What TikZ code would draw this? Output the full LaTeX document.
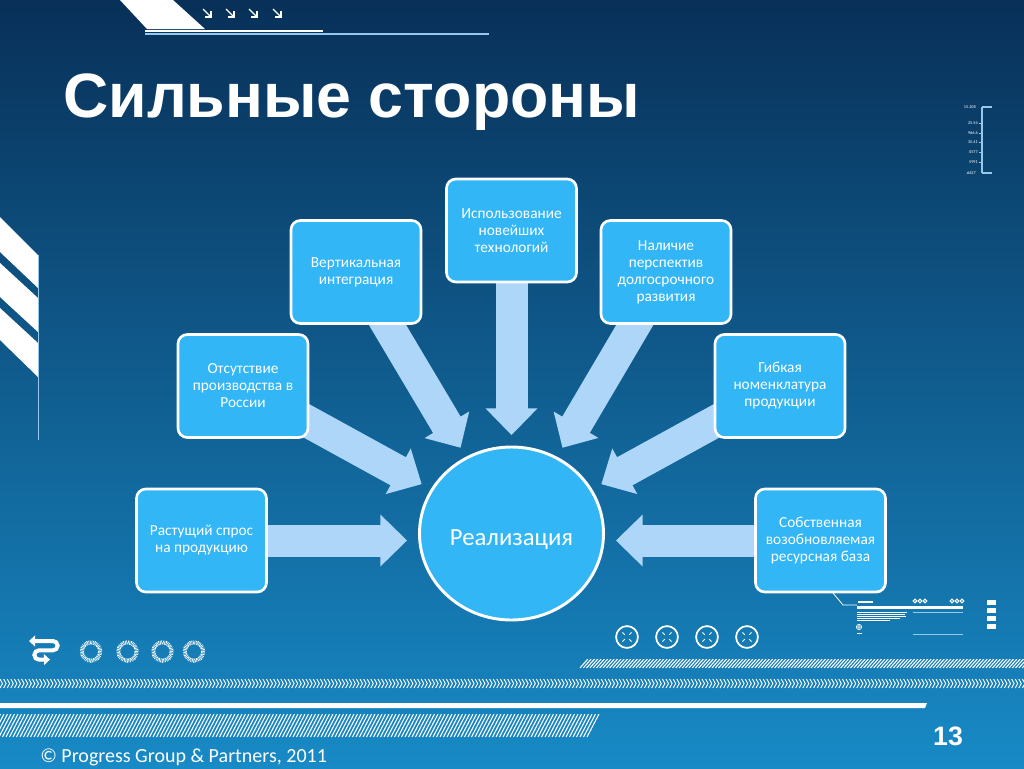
\documentclass[tikz,border=0pt]{standalone}
\usepackage{fontspec}
\setmainfont{Carlito}
\newfontfamily\titlef{Liberation Sans}
\usetikzlibrary{shapes.geometric,calc,arrows.meta}
\definecolor{boxc}{RGB}{51,182,245}
\definecolor{arrc}{RGB}{174,214,249}
\definecolor{bgtop}{RGB}{8,48,88}
\definecolor{bgmid}{RGB}{10,88,136}
\definecolor{bgbot}{RGB}{24,138,198}
\definecolor{deco}{RGB}{150,200,235}
\pgfdeclarelayer{bg}\pgfdeclarelayer{arr}\pgfsetlayers{bg,arr,main}
\newcommand\blockarrow[2]{%
  \coordinate (#2h) at ($(#2)!20pt!(#1)$);
  \coordinate (#2s) at ($(#2)!19pt!(#1)$);
  \draw[arrc,line width=24pt] (#1.center) -- (#2s);
  \fill[arrc] (#2) -- ($(#2h)!19.5pt!90:(#2)$) -- ($(#2h)!19.5pt!-90:(#2)$) -- cycle;}
\tikzset{
  box/.style={draw=white,line width=2pt,fill=boxc,rounded corners=7pt,
    minimum width=97.5pt,minimum height=77.25pt,align=center,text=white,
    font=\fontsize{11.5}{12.75}\selectfont,inner sep=2pt},
  hub/.style={ellipse,draw=white,line width=2.2pt,fill=boxc,minimum width=138pt,
    minimum height=129.75pt},
  tiny/.style={text=white,font=\fontsize{3.2}{4}\selectfont,inner sep=0pt,anchor=east}
}
\begin{document}
\begin{tikzpicture}[x=0.75pt,y=-0.75pt]
\useasboundingbox (0,0) rectangle (1024,768);
% nodes
\node[box] (b1) at (201.5,540.5) {Растущий спрос\\на продукцию};
\node[box] (b2) at (243,386) {Отсутствие\\производства в\\России};
\node[box] (b3) at (356,272) {Вертикальная\\интеграция};
\node[box] (b4) at (511.5,230.5) {Использование\\новейших\\технологий};
\node[box] (b5) at (666,272) {Наличие\\перспектив\\долгосрочного\\развития};
\node[box] (b6) at (780,386) {Гибкая\\номенклатура\\продукции};
\node[box] (b7) at (820.5,540.5) {Собственная\\возобновляемая\\ресурсная база};
\node[hub] (c) at (511.5,533.5) {};
\node[text=white,inner sep=0pt,font=\fontsize{18.5}{20}\selectfont] (clabel) at (511.5,540) {Реализация};
\node[text=white,anchor=base west,inner sep=0pt,font=\titlef\bfseries\fontsize{47}{50}\selectfont] (title) at (63,117) {Сильные стороны};
\node[text=white,anchor=base west,inner sep=0pt,font=\fontsize{15}{17}\selectfont] (foot) at (40,762) {© Progress Group \& Partners, 2011};
\node[text=white,inner sep=0pt,font=\titlef\bfseries\fontsize{20}{22}\selectfont] (num) at (948,736) {13};
% tip coordinates
\coordinate (t1) at (407,540.5);
\coordinate (t2) at (421.6,484.1);
\coordinate (t3) at (460.5,447.7);
\coordinate (t4) at (511.5,435);
\coordinate (t5) at (562.5,447.7);
\coordinate (t6) at (601.4,484.1);
\coordinate (t7) at (616,540.5);
\begin{pgfonlayer}{arr}
\blockarrow{b1}{t1}
\blockarrow{b2}{t2}
\blockarrow{b3}{t3}
\blockarrow{b4}{t4}
\blockarrow{b5}{t5}
\blockarrow{b6}{t6}
\blockarrow{b7}{t7}
\end{pgfonlayer}
\begin{pgfonlayer}{bg}
\shade[top color=bgtop,middle color=bgmid,bottom color=bgbot] (0,0) rectangle (1024,768);
% top decoration
\fill[white] (120,0) -- (173,0) -- (205,29) -- (147,29) -- cycle;
\draw[white,line width=1.5pt] (145,31) -- (323,31);
\draw[deco,line width=0.8pt] (145,34) -- (489,34);
\foreach \x in {207,230,253,277}{
  \draw[white,line width=1pt] (\x-4,9) -- (\x+4,17);
  \draw[white,line width=1pt] (\x+4,11) -- (\x+4,17) -- (\x-2,17);}
% left stripes
\fill[white] (0,217) -- (38,255) -- (38,288) -- (0,252) -- cycle;
\fill[white] (0,263) -- (38,298) -- (38,332) -- (0,297) -- cycle;
\fill[white] (0,308) -- (38,343) -- (38,377) -- (0,340) -- cycle;
\draw[deco,line width=0.8pt] (38.5,255) -- (38.5,440);
% right scale
\draw[deco,line width=0.8pt] (982,107) -- (982,173);
\draw[deco,line width=0.8pt] (982,107) -- (992,107);
\draw[deco,line width=0.8pt] (982,173) -- (992,173);
\foreach \y in {123,133,142,152,162} \draw[deco,line width=0.6pt] (979,\y) -- (982,\y);
\node[tiny] (s1) at (976,107) {15.208};
\node[tiny] (s2) at (978,123) {25.54};
\node[tiny] (s3) at (978,133) {966.6};
\node[tiny] (s4) at (978,142) {35.41};
\node[tiny] (s5) at (978,152) {0577};
\node[tiny] (s6) at (978,162) {5991};
\node[tiny] (s7) at (976,173) {.6627};
% decoration near b7
\draw[white,line width=0.6pt] (833,593) -- (843,605) -- (857,605);
\fill[white] (857,606) rectangle (963,609);
\fill[white] (858,600.5) rectangle (873,602.5);
\foreach \x in {915,920,925,952,957,962} \draw[white,line width=0.8pt] (\x,601) circle[radius=1.4pt];
\foreach \y/\l in {612/907,614/905,616/906,618/900,620/890} \draw[white,line width=0.6pt] (857,\y) -- (\l,\y);
\draw[deco,line width=0.7pt] (913,612) -- (963,612);
\draw[deco,line width=0.7pt] (913,634) -- (963,634);
\draw[white,line width=0.5pt] (859,627) circle[radius=2pt] (856.5,627) -- (861.5,627) (859,624.5) -- (859,629.5);
\draw[white,line width=0.6pt] (857,633) -- (862,633);
\foreach \y in {600,608,616,624} \fill[white] (987,\y) rectangle (996,\y+5);
% circled crosses
\foreach \x in {627,667,707,747}{
  \draw[white,line width=1.3pt] (\x,637) circle[radius=8.2pt];
  \foreach \a in {45,135,225,315}
    \draw[white,line width=0.7pt] ($(\x,637)+(\a:2.3pt)$) -- ($(\x,637)+(\a:4.8pt)$);}
% swap icon and dotted rings
\draw[white,line width=3pt,{Triangle[length=4.5pt,width=8pt]}-{Triangle[length=4.5pt,width=8pt]}]
  (29,641) -- (53,641) arc[start angle=90,end angle=-90,radius=3.5pt] -- (39,650.3)
  arc[start angle=90,end angle=270,radius=3.5pt] -- (50,659.6);
\foreach \x in {91,127.5,162.5,194}
  \draw[white,line width=3pt,dash pattern=on 0.5pt off 0.6pt] (\x,651.5) circle[radius=6.9pt];
% hatched band 1
\begin{scope}
\clip (578,668) -- (586,659) -- (1024,659) -- (1024,668) -- cycle;
\foreach \i in {570,573.3,...,1030} \draw[white,line width=0.8pt] (\i,668) -- (\i+8,659);
\end{scope}
% chevron band
\foreach \i in {0,3.6,...,1024} \draw[white,line width=0.7pt] (\i,679) -- (\i+2.5,683.5) -- (\i,688);
% white line
\fill[white] (0,703) -- (927,703) -- (925,708) -- (0,708) -- cycle;
% hatched band 2
\begin{scope}
\clip (0,714) -- (600,714) -- (588,737) -- (0,737) -- cycle;
\foreach \i in {-15,-11.5,...,600} \draw[white,line width=0.8pt] (\i,737) -- (\i+12,714);
\end{scope}
\end{pgfonlayer}
\end{tikzpicture}
\end{document}
